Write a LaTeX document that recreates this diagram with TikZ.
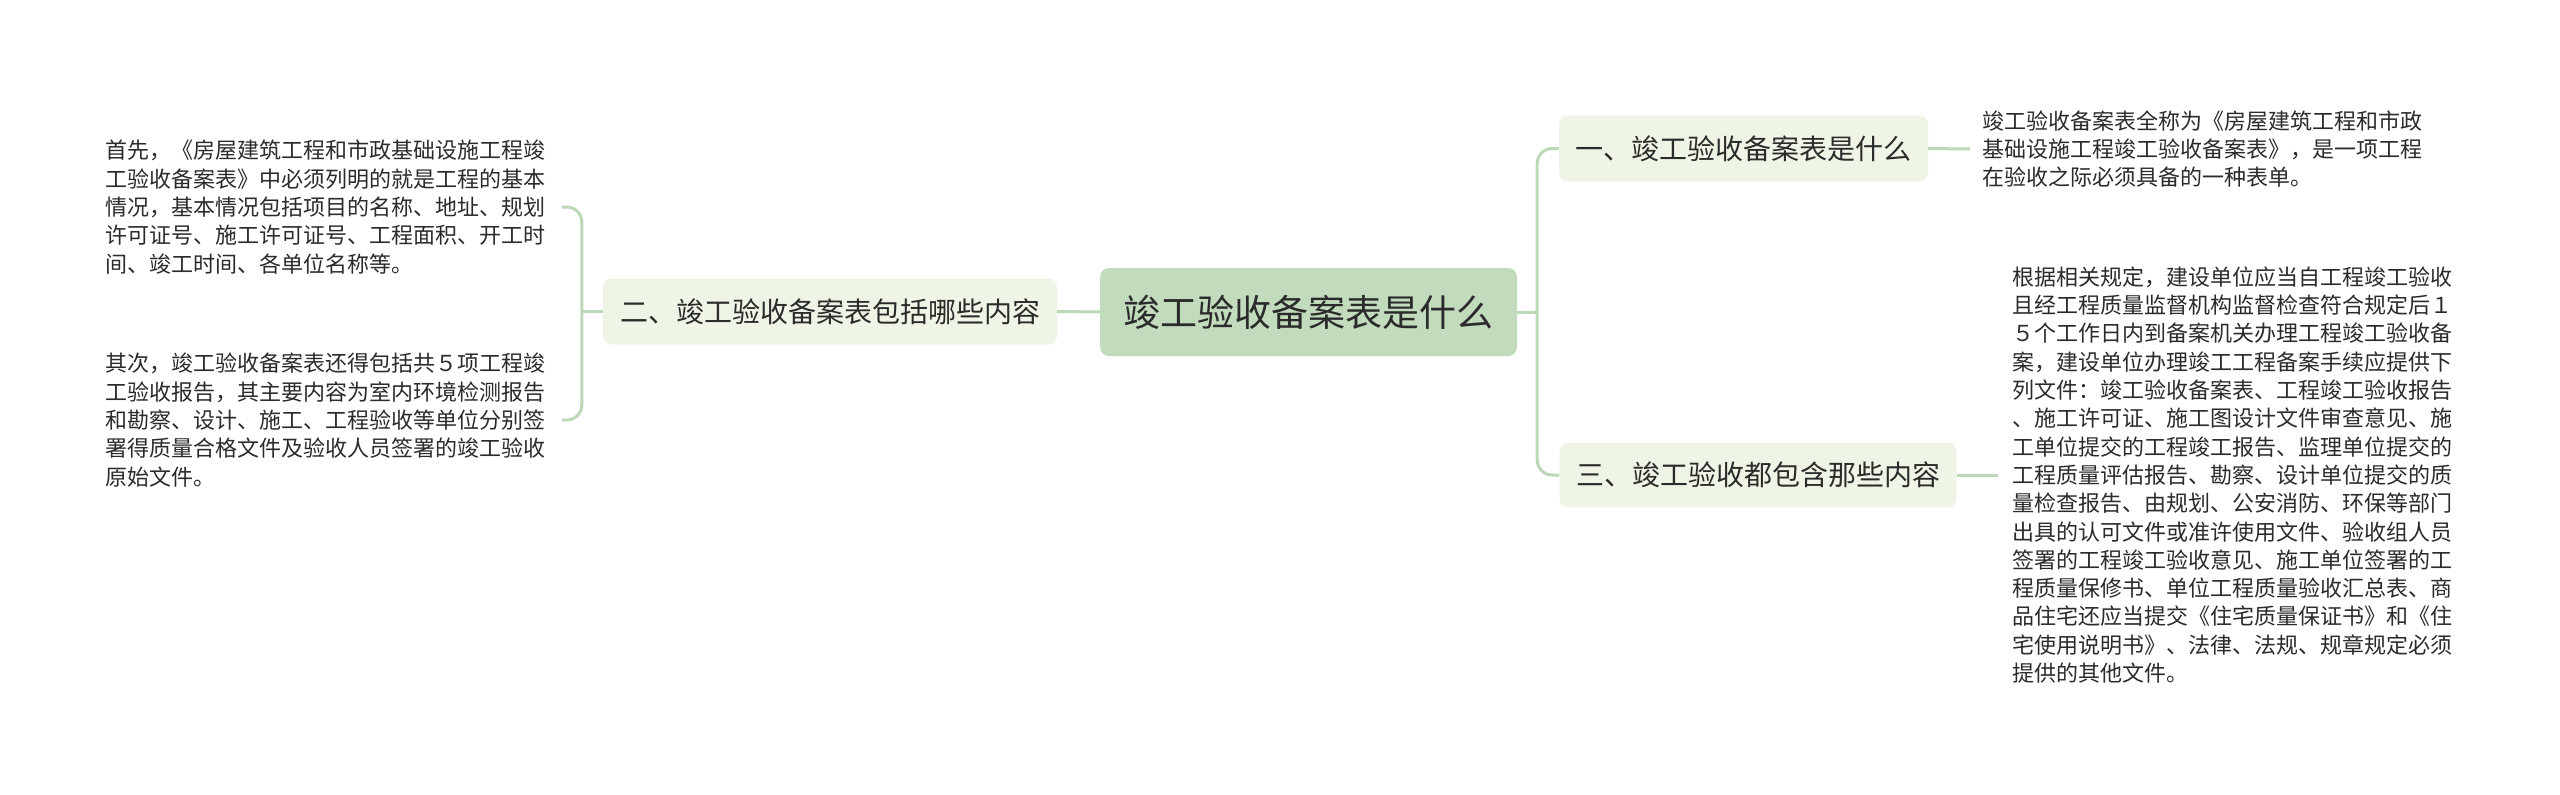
\documentclass[tikz,border=0pt]{standalone}
\usepackage{fontspec}
\setmainfont{Noto Sans CJK SC}
\usetikzlibrary{calc}
\definecolor{rootfill}{HTML}{C2DBBC}
\definecolor{subfill}{HTML}{EFF5E6}
\definecolor{linec}{HTML}{BDD8B7}
\definecolor{txt}{HTML}{2B2B2B}
\tikzset{
  rootbox/.style={fill=rootfill, rounded corners=9pt, inner sep=0pt, text=txt,
    font=\fontsize{37}{44}\selectfont},
  subbox/.style={fill=subfill, rounded corners=9pt, inner sep=0pt, text=txt,
    font=\fontsize{28}{34}\selectfont},
  leaf/.style={inner sep=0pt, align=left, text=txt, anchor=west,
    font=\fontsize{22}{28.3}\selectfont},
  conn/.style={draw=linec, line width=3pt},
}
\begin{document}
\begin{tikzpicture}[x=1pt,y=-1pt]
\useasboundingbox (0,0) rectangle (2560,795);
\fill[white] (0,0) rectangle (2560,795);

\node[rootbox, minimum width=417pt, minimum height=88pt] (root) at (1308.5,312) {竣工验收备案表是什么};
\node[subbox, minimum width=454pt, minimum height=66pt] (b2) at (830,311.5) {二、竣工验收备案表包括哪些内容};
\node[subbox, minimum width=369pt, minimum height=66pt] (b1) at (1743.5,148.5) {一、竣工验收备案表是什么};
\node[subbox, minimum width=397pt, minimum height=65pt] (b3) at (1758,475) {三、竣工验收都包含那些内容};

\node[leaf] (l1) at (105,207) {首先，《房屋建筑工程和市政基础设施工程竣\\工验收备案表》中必须列明的就是工程的基本\\情况，基本情况包括项目的名称、地址、规划\\许可证号、施工许可证号、工程面积、开工时\\间、竣工时间、各单位名称等。};
\node[leaf] (l2) at (105,420) {其次，竣工验收备案表还得包括共５项工程竣\\工验收报告，其主要内容为室内环境检测报告\\和勘察、设计、施工、工程验收等单位分别签\\署得质量合格文件及验收人员签署的竣工验收\\原始文件。};
\node[leaf] (r1) at (1982,149) {竣工验收备案表全称为《房屋建筑工程和市政\\基础设施工程竣工验收备案表》，是一项工程\\在验收之际必须具备的一种表单。};
\node[leaf] (r3) at (2012,475) {根据相关规定，建设单位应当自工程竣工验收\\且经工程质量监督机构监督检查符合规定后１\\５个工作日内到备案机关办理工程竣工验收备\\案，建设单位办理竣工工程备案手续应提供下\\列文件：竣工验收备案表、工程竣工验收报告\\、施工许可证、施工图设计文件审查意见、施\\工单位提交的工程竣工报告、监理单位提交的\\工程质量评估报告、勘察、设计单位提交的质\\量检查报告、由规划、公安消防、环保等部门\\出具的认可文件或准许使用文件、验收组人员\\签署的工程竣工验收意见、施工单位签署的工\\程质量保修书、单位工程质量验收汇总表、商\\品住宅还应当提交《住宅质量保证书》和《住\\宅使用说明书》、法律、法规、规章规定必须\\提供的其他文件。};

% left side
\coordinate (bl) at ($(b2.west)+(-21,0)$);
\coordinate (l1e) at (562,207);
\coordinate (l2e) at (562,420);
\draw[conn] (root.west) -- (b2.east);
\draw[conn] (b2.west) -- (bl);
\draw[conn, rounded corners=15pt] (l1e) -| (bl) |- (l2e);

% right side
\coordinate (br) at ($(root.east)+(20,0)$);
\draw[conn] (root.east) -- (br);
\draw[conn, rounded corners=15pt] (b1.west) -| (br) |- (b3.west);
\coordinate (r1e) at (1970,149);
\coordinate (r3e) at (1998,475);
\draw[conn] (b1.east) -- (r1e);
\draw[conn] (b3.east) -- (r3e);
\end{tikzpicture}
\end{document}
